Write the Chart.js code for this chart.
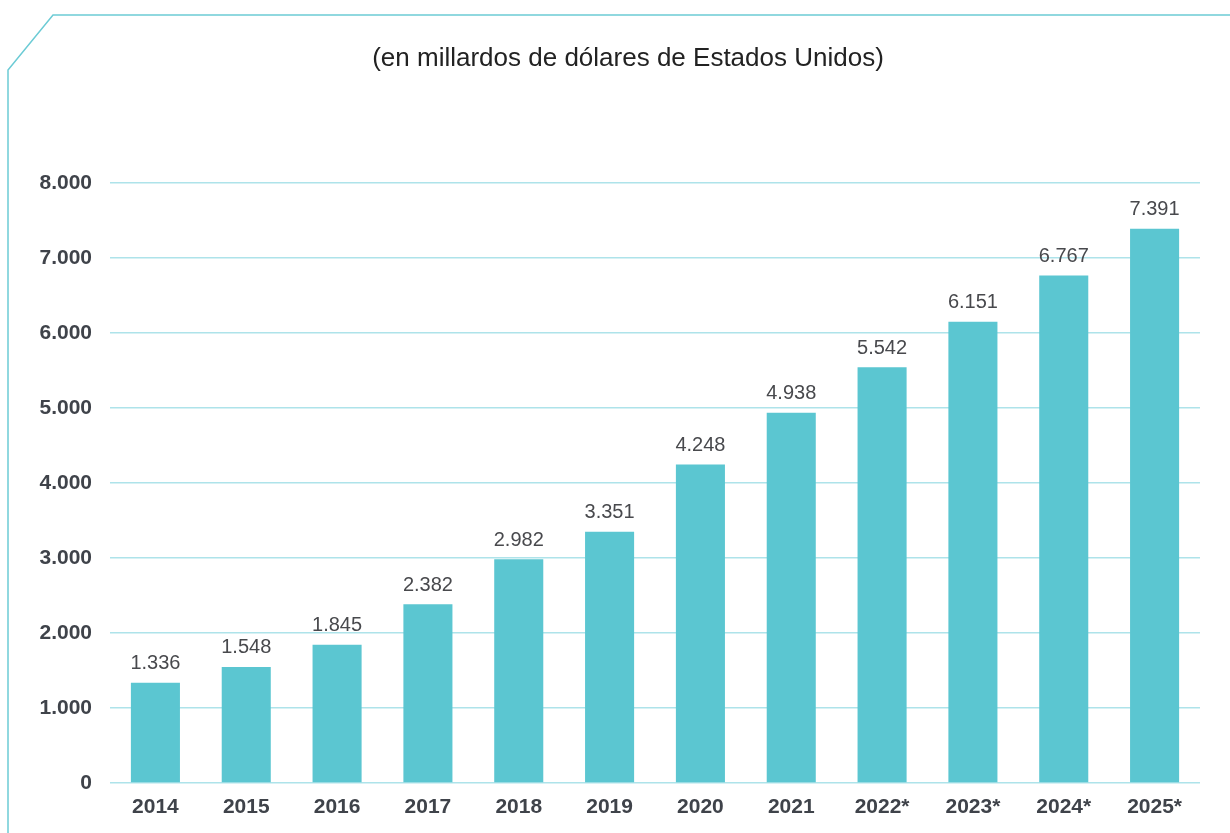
<!DOCTYPE html>
<html>
<head>
<meta charset="utf-8">
<script src="https://cdn.jsdelivr.net/npm/chart.js@4"></script>
<style>
  html, body { margin: 0; padding: 0; background: #fff; }
  #wrap { width: 1230px; height: 833px; }
</style>
</head>
<body>
<div id="wrap"><canvas id="myBarChart"></canvas></div>
<script>
var years = ['2014', '2015', '2016', '2017', '2018', '2019', '2020', '2021', '2022*', '2023*', '2024*', '2025*'];
var ventas = [1336, 1548, 1845, 2382, 2982, 3351, 4248, 4938, 5542, 6151, 6767, 7391];
var yTicks = [0, 1000, 2000, 3000, 4000, 5000, 6000, 7000, 8000];
var subtitulo = '(en millardos de dólares de Estados Unidos)';

var FONT = "'Liberation Sans', Arial, Helvetica, sans-serif";

function miles(v) {
    return String(v).replace(/\B(?=(\d{3})+(?!\d))/g, '.');
}

// marco con la esquina cortada + subtitulo
const marco = {
    id: 'marco',
    beforeDraw(chart) {
        var ctx = chart.ctx;
        ctx.save();
        ctx.strokeStyle = '#6ccbd5';
        ctx.lineWidth = 1.5;
        ctx.beginPath();
        ctx.moveTo(8, chart.height);
        ctx.lineTo(8, 70);
        ctx.lineTo(53, 15);
        ctx.lineTo(chart.width, 15);
        ctx.stroke();
        ctx.fillStyle = '#222';
        ctx.font = '26px ' + FONT;
        ctx.textAlign = 'center';
        ctx.textBaseline = 'middle';
        ctx.fillText(subtitulo, 628, 59);
        ctx.restore();
    }
};

// valores encima de cada barra
const etiquetas = {
    id: 'etiquetas',
    afterDatasetsDraw(chart) {
        var ctx = chart.ctx;
        var meta = chart.getDatasetMeta(0);
        ctx.save();
        ctx.fillStyle = '#48494d';
        ctx.font = '20px ' + FONT;
        ctx.textAlign = 'center';
        ctx.textBaseline = 'bottom';
        meta.data.forEach(function (bar, i) {
            ctx.fillText(miles(ventas[i]), bar.x, bar.y - 9);
        });
        ctx.restore();
    }
};

const config_bar = {
    type: 'bar',
    data: {
        labels: years,
        datasets: [{
            data: ventas,
            backgroundColor: '#5bc6d1',
            borderWidth: 0,
            categoryPercentage: 1,
            barPercentage: 0.54
        }]
    },
    options: {
        responsive: true,
        maintainAspectRatio: false,
        animation: false,
        layout: { padding: { top: 183, right: 30, bottom: 9, left: 0 } },
        plugins: {
            legend: { display: false },
            tooltip: { enabled: false }
        },
        scales: {
            x: {
                grid: { display: false },
                border: { display: false },
                ticks: {
                    color: '#3f434a',
                    font: { family: FONT, size: 21, weight: 'bold', lineHeight: 1 },
                    padding: 6,
                    maxRotation: 0
                }
            },
            y: {
                min: 0,
                max: 8000,
                afterBuildTicks: function (scale) {
                    scale.ticks = yTicks.map(function (v) { return { value: v }; });
                },
                afterFit: function (scale) { scale.width = 110; },
                grid: { color: '#aee3ea', lineWidth: 1.5, drawTicks: false },
                border: { display: false },
                ticks: {
                    color: '#3f434a',
                    font: { family: FONT, size: 21, weight: 'bold' },
                    padding: 18,
                    callback: function (v) { return miles(v); }
                }
            }
        }
    },
    plugins: [marco, etiquetas]
};

var myChart = new Chart(document.getElementById('myBarChart'), config_bar);
</script>
</body>
</html>
